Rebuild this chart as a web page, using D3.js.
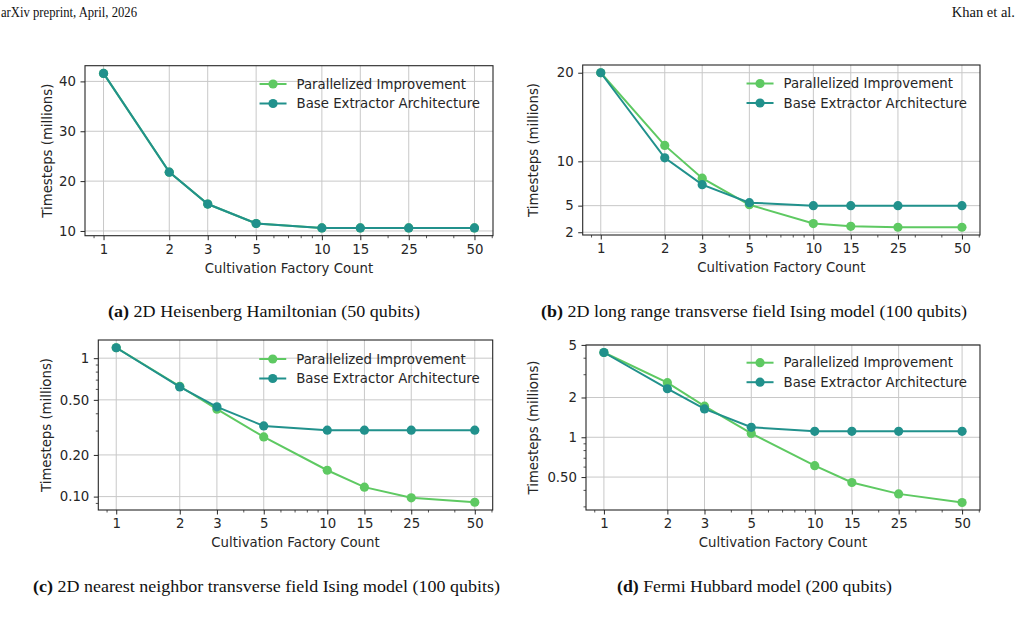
<!DOCTYPE html>
<html>
<head>
<meta charset="utf-8">
<script src="https://cdn.jsdelivr.net/npm/d3@7"></script>
<style>
  body { margin: 0; background: #fff; }
  svg { display: block; }
  .tick text { font-family: "DejaVu Sans", sans-serif; font-size: 13.3px; fill: #262626; }
  .tick line { stroke: #262626; }
  .domain { display: none; }
</style>
</head>
<body>
<div id="chart"></div>
<script>
// x values shared by all four panels
const factoryCounts = [1, 2, 3, 5, 10, 15, 25, 50];
const xTickValues = [1, 2, 3, 5, 10, 15, 25, 50];

// (a) 2D Heisenberg Hamiltonian
const heisenbergParallel = [41.6, 21.8, 15.4, 11.5, 10.6, 10.6, 10.6, 10.6];
const heisenbergBase = [41.6, 21.8, 15.4, 11.5, 10.6, 10.6, 10.6, 10.6];
const heisenbergTicks = [10, 20, 30, 40];
const heisenbergTickLabels = ["10", "20", "30", "40"];

// (b) long range transverse field Ising
const lrIsingParallel = [20, 11.8, 8.1, 5.1, 2.98, 2.67, 2.56, 2.56];
const lrIsingBase = [20, 10.4, 7.37, 5.34, 5.0, 5.0, 5.0, 5.0];
const lrIsingTicks = [2, 5, 10, 20];
const lrIsingTickLabels = ["2", "5", "10", "20"];

// (c) nearest neighbor transverse field Ising
const nnIsingParallel = [1.19, 0.627, 0.428, 0.27, 0.155, 0.117, 0.098, 0.091];
const nnIsingBase = [1.19, 0.62, 0.445, 0.324, 0.302, 0.302, 0.302, 0.302];
const nnIsingTicks = [0.1, 0.2, 0.5, 1];
const nnIsingTickLabels = ["0.10", "0.20", "0.50", "1"];

// (d) Fermi Hubbard
const hubbardParallel = [4.38, 2.59, 1.72, 1.07, 0.61, 0.455, 0.373, 0.321];
const hubbardBase = [4.38, 2.33, 1.64, 1.19, 1.11, 1.11, 1.11, 1.11];
const hubbardTicks = [0.5, 1, 2, 5];
const hubbardTickLabels = ["0.50", "1", "2", "5"];

const seriesNames = ["Parallelized Improvement", "Base Extractor Architecture"];
const seriesColors = ["#5ec962", "#21918c"];

const W = 1020, H = 627;
const FONT = "DejaVu Sans, sans-serif", FS = "13.3px";
const SERIF = "Liberation Serif, serif";
const svg = d3.select("#chart").append("svg").attr("width", W).attr("height", H);

// page header
svg.append("text").attr("x", 1).attr("y", 17)
  .style("font-family", SERIF).style("font-size", "15px").attr("fill", "#111")
  .attr("textLength", 136).attr("lengthAdjust", "spacingAndGlyphs")
  .text("arXiv preprint, April, 2026");
svg.append("text").attr("x", 1015).attr("y", 17).attr("text-anchor", "end")
  .style("font-family", SERIF).style("font-size", "14.5px").attr("fill", "#111")
  .text("Khan et al.");

function minorLog(lo, hi, majors) {
  const out = [];
  for (let e = Math.floor(Math.log10(lo)) - 1; e <= Math.ceil(Math.log10(hi)); e++) {
    for (let k = 1; k < 10; k++) {
      const v = +(k * Math.pow(10, e)).toPrecision(6);
      if (v >= lo && v <= hi && !majors.some(m => Math.abs(m - v) / v < 1e-6)) out.push(v);
    }
  }
  return out;
}

function padDomain(vals, log) {
  const f = log ? Math.log10 : (d => d);
  const inv = log ? (d => Math.pow(10, d)) : (d => d);
  const lo = f(d3.min(vals)), hi = f(d3.max(vals));
  const m = (hi - lo) * 0.05;
  return [inv(lo - m), inv(hi + m)];
}

function drawPanel(p) {
  const g = svg.append("g");
  const {l, r, t, b} = p.box;

  const x = d3.scaleLog().domain(padDomain(factoryCounts, true)).range([l, r]);
  const allY = p.parallel.concat(p.base);
  const y = (p.log ? d3.scaleLog() : d3.scaleLinear())
    .domain(padDomain(allY, p.log)).range([b, t]);

  // grid
  g.append("g").selectAll("line").data(xTickValues).join("line")
    .attr("x1", d => x(d)).attr("x2", d => x(d)).attr("y1", t).attr("y2", b)
    .attr("stroke", "#c8c8c8").attr("stroke-width", 1);
  g.append("g").selectAll("line").data(p.yTicks).join("line")
    .attr("x1", l).attr("x2", r).attr("y1", d => y(d)).attr("y2", d => y(d))
    .attr("stroke", "#c8c8c8").attr("stroke-width", 1);

  // x axis
  const xd = x.domain();
  g.append("g").attr("transform", `translate(0,${b})`)
    .call(d3.axisBottom(x).tickValues(minorLog(xd[0], xd[1], xTickValues)).tickFormat("").tickSize(2.5).tickSizeOuter(0))
    .selectAll("line").attr("stroke-width", 0.8);
  g.append("g").attr("transform", `translate(0,${b})`)
    .call(d3.axisBottom(x).tickValues(xTickValues).tickFormat(d3.format("d")).tickSize(4.5).tickPadding(4).tickSizeOuter(0))
    .selectAll("line").attr("stroke-width", 1);

  // y axis
  if (p.log) {
    const yd = y.domain();
    g.append("g").attr("transform", `translate(${l},0)`)
      .call(d3.axisLeft(y).tickValues(minorLog(yd[0], yd[1], p.yTicks)).tickFormat("").tickSize(2.5).tickSizeOuter(0))
      .selectAll("line").attr("stroke-width", 0.8);
  }
  g.append("g").attr("transform", `translate(${l},0)`)
    .call(d3.axisLeft(y).tickValues(p.yTicks).tickFormat((d, i) => p.yTickLabels[i]).tickSize(4.5).tickPadding(4.5).tickSizeOuter(0))
    .selectAll("line").attr("stroke-width", 1);

  // frame
  g.append("rect").attr("x", l).attr("y", t).attr("width", r - l).attr("height", b - t)
    .attr("fill", "none").attr("stroke", "#262626").attr("stroke-width", 1.1);

  // series
  const line = d3.line().x((d, i) => x(factoryCounts[i])).y(d => y(d));
  [p.parallel, p.base].forEach((vals, s) => {
    g.append("path").datum(vals).attr("d", line)
      .attr("fill", "none").attr("stroke", seriesColors[s]).attr("stroke-width", 2);
    g.append("g").selectAll("circle").data(vals).join("circle")
      .attr("cx", (d, i) => x(factoryCounts[i])).attr("cy", d => y(d)).attr("r", 4.6)
      .attr("fill", seriesColors[s]);
  });

  // legend
  const textRight = r - 13;
  const lg = g.append("g");
  const labels = lg.selectAll("text").data(seriesNames).join("text")
    .attr("y", (d, i) => p.legendY + i * 19.5).attr("dy", "0.35em")
    .style("font-family", FONT).style("font-size", FS).attr("fill", "#262626")
    .text(d => d);
  const w = d3.max(labels.nodes(), n => n.getComputedTextLength());
  const tx = textRight - w;
  labels.attr("x", tx);
  seriesNames.forEach((s, i) => {
    const yy = p.legendY + i * 19.5;
    lg.append("line").attr("x1", tx - 37).attr("x2", tx - 10).attr("y1", yy).attr("y2", yy)
      .attr("stroke", seriesColors[i]).attr("stroke-width", 2);
    lg.append("circle").attr("cx", tx - 23.5).attr("cy", yy).attr("r", 4.6).attr("fill", seriesColors[i]);
  });

  // axis labels
  g.append("text").attr("x", (l + r) / 2).attr("y", b + 37).attr("text-anchor", "middle")
    .style("font-family", FONT).style("font-size", FS).attr("fill", "#262626")
    .text("Cultivation Factory Count");
  g.append("text").attr("transform", `translate(${p.yLabelX},${(t + b) / 2}) rotate(-90)`)
    .attr("text-anchor", "middle").attr("dy", "0.35em")
    .style("font-family", FONT).style("font-size", FS).attr("fill", "#262626")
    .text("Timesteps (millions)");

  // caption
  const cap = svg.append("text").attr("x", p.capX).attr("y", p.capY)
    .style("font-family", SERIF).style("font-size", "17px").attr("fill", "#111")
    .attr("textLength", p.capW).attr("lengthAdjust", "spacingAndGlyphs");
  cap.append("tspan").style("font-weight", "bold").text(p.capTag);
  cap.append("tspan").text(" " + p.caption);
}

drawPanel({
  box: {l: 85, r: 493, t: 65.7, b: 235.7}, log: false,
  parallel: heisenbergParallel, base: heisenbergBase,
  yTicks: heisenbergTicks, yTickLabels: heisenbergTickLabels,
  legendY: 84, yLabelX: 47,
  capX: 108, capY: 317, capW: 312, capTag: "(a)", caption: "2D Heisenberg Hamiltonian (50 qubits)"
});
drawPanel({
  box: {l: 582.7, r: 980, t: 65, b: 235}, log: false,
  parallel: lrIsingParallel, base: lrIsingBase,
  yTicks: lrIsingTicks, yTickLabels: lrIsingTickLabels,
  legendY: 83.5, yLabelX: 533,
  capX: 541, capY: 317, capW: 426, capTag: "(b)", caption: "2D long range transverse field Ising model (100 qubits)"
});
drawPanel({
  box: {l: 98.3, r: 492.7, t: 340, b: 510}, log: true,
  parallel: nnIsingParallel, base: nnIsingBase,
  yTicks: nnIsingTicks, yTickLabels: nnIsingTickLabels,
  legendY: 359, yLabelX: 46.7,
  capX: 33, capY: 592, capW: 467, capTag: "(c)", caption: "2D nearest neighbor transverse field Ising model (100 qubits)"
});
drawPanel({
  box: {l: 586, r: 980, t: 345, b: 510}, log: true,
  parallel: hubbardParallel, base: hubbardBase,
  yTicks: hubbardTicks, yTickLabels: hubbardTickLabels,
  legendY: 362.7, yLabelX: 533,
  capX: 617, capY: 592, capW: 275, capTag: "(d)", caption: "Fermi Hubbard model (200 qubits)"
});
</script>
</body>
</html>
